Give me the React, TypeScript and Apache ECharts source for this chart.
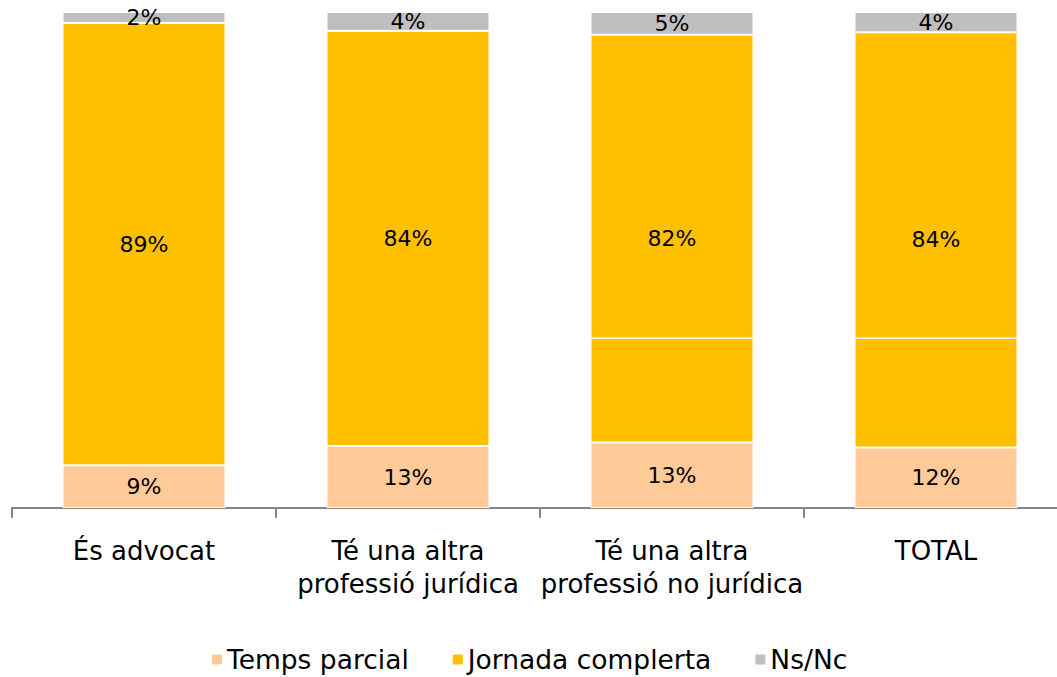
import React, { useEffect, useRef } from "react";
import * as echarts from "echarts";

const categories = [
  "És advocat",
  "Té una altra\nprofessió jurídica",
  "Té una altra\nprofessió no jurídica",
  "TOTAL",
];
const tempsParcial = [8.6, 12.5, 13.2, 12.2];
const jornadaComplerta = [89.2, 83.7, 82.2, 83.7];
const nsNc = [2.2, 3.8, 4.6, 4.1];
// thin white divider visible inside the full-time segment of the last two bars
const dividerLevels: [number, number][] = [
  [2, 34.2],
  [3, 34.2],
];

const FONT = "'DejaVu Sans', sans-serif";
const BAR_W = 163;

export default function App() {
  const ref = useRef<HTMLDivElement>(null);
  useEffect(() => {
    const chart = echarts.init(ref.current!, null, { renderer: "svg" });
    const label = {
      show: true,
      position: "inside",
      color: "#000",
      fontFamily: FONT,
      fontSize: 22,
      formatter: (p: any) => Math.round(p.value) + "%",
    };
    const itemStyle = (c: string) => ({ color: c, borderColor: "#fff", borderWidth: 1 });
    chart.setOption({
      animation: false,
      textStyle: { fontFamily: FONT },
      grid: { left: 12, top: 12, width: 1056, height: 496, containLabel: false },
      legend: {
        data: ["Temps parcial", "Jornada complerta", "Ns/Nc"],
        left: 210,
        top: 646,
        padding: 0,
        icon: "rect",
        itemWidth: 12,
        itemHeight: 12,
        itemGap: 42,
        textStyle: { fontFamily: FONT, fontSize: 26.5, color: "#000", padding: [0, 0, 0, -1] },
      },
      xAxis: {
        type: "category",
        data: categories,
        axisLine: { lineStyle: { color: "#868686", width: 2 } },
        axisTick: { show: true, length: 10, lineStyle: { color: "#868686", width: 2 } },
        axisLabel: {
          interval: 0,
          margin: 26,
          color: "#000",
          fontFamily: FONT,
          fontSize: 26,
          lineHeight: 33,
        },
      },
      yAxis: { type: "value", min: 0, max: 100, show: false },
      series: [
        {
          name: "Temps parcial",
          type: "bar",
          stack: "s",
          barWidth: BAR_W,
          data: tempsParcial,
          itemStyle: itemStyle("#FFCA98"),
          label,
        },
        {
          name: "Jornada complerta",
          type: "bar",
          stack: "s",
          barWidth: BAR_W,
          data: jornadaComplerta,
          itemStyle: itemStyle("#FFC000"),
          label,
        },
        {
          name: "Ns/Nc",
          type: "bar",
          stack: "s",
          barWidth: BAR_W,
          data: nsNc,
          itemStyle: itemStyle("#BFBFBF"),
          label,
        },
        {
          name: "divider",
          type: "custom",
          data: dividerLevels,
          z: 5,
          renderItem: (params: any, api: any) => {
            const p = api.coord([api.value(0), api.value(1)]);
            return {
              type: "line",
              shape: { x1: p[0] - BAR_W / 2, y1: p[1], x2: p[0] + BAR_W / 2, y2: p[1] },
              style: { stroke: "#fff", lineWidth: 1.5 },
            };
          },
        },
      ],
    });
    return () => chart.dispose();
  }, []);
  return (
    <div style={{ position: "fixed", left: 0, top: 0, width: 1057, height: 677, overflow: "hidden", background: "#fff" }}>
      <div ref={ref} style={{ width: 1080, height: 677 }} />
    </div>
  );
}
